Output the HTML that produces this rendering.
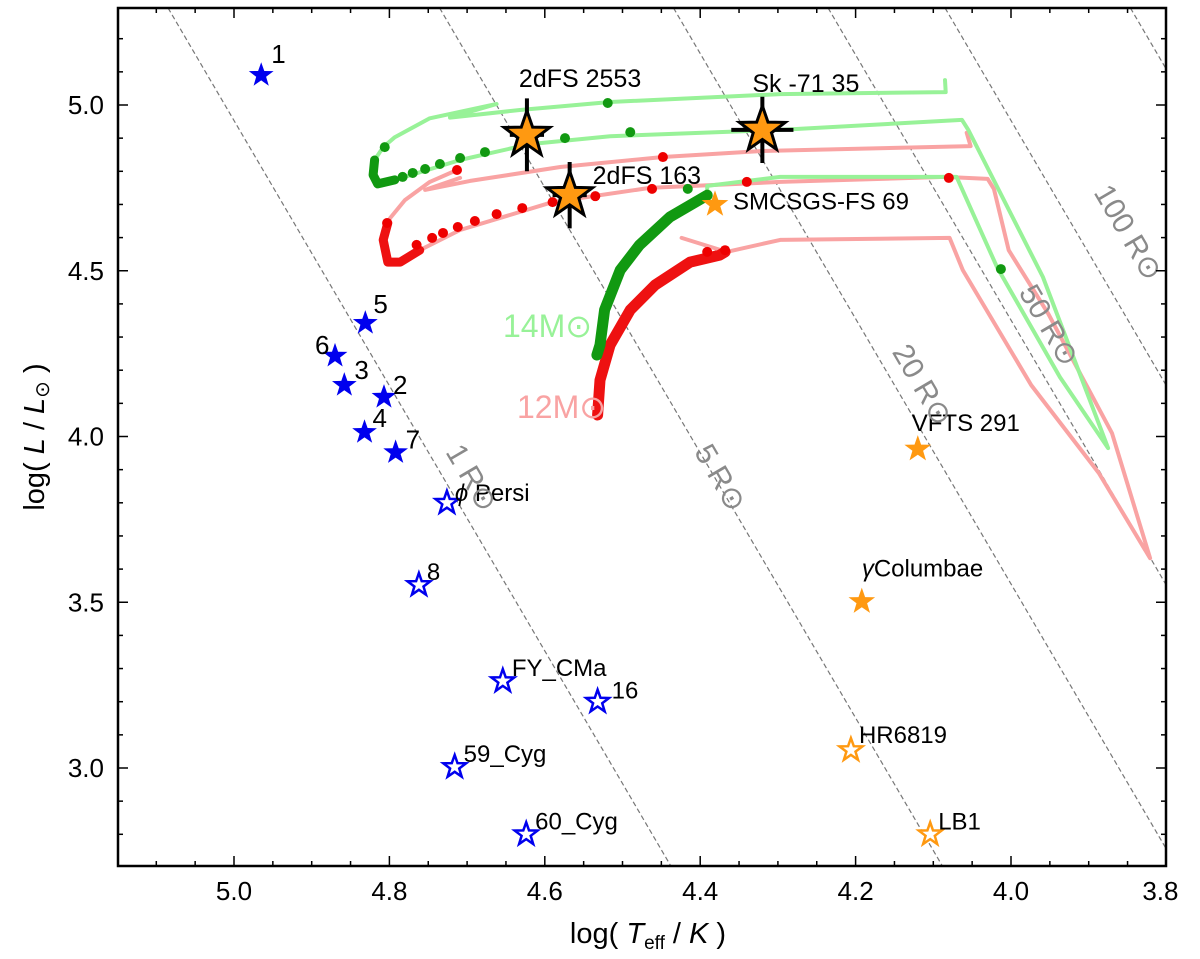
<!DOCTYPE html>
<html><head><meta charset="utf-8"><style>
html,body{margin:0;padding:0;background:#fff;overflow:hidden;width:1200px;height:959px;}
svg{display:block;font-family:"Liberation Sans",sans-serif;overflow:hidden;}
</style></head><body>
<svg id="chart" width="1200" height="959" viewBox="0 0 1200 959" xmlns="http://www.w3.org/2000/svg">
<defs><clipPath id="plotclip"><rect x="118" y="8" width="1048" height="858"/></clipPath></defs>
<g id="grid" clip-path="url(#plotclip)"></g>
<g id="tracks" clip-path="url(#plotclip)"></g>
<g id="marks"></g>
<g id="axes"></g>
</svg>
<script>
// ---- data ----
const xTicks = [5.0, 4.8, 4.6, 4.4, 4.2, 4.0, 3.8];
const xTickLabels = ["5.0","4.8","4.6","4.4","4.2","4.0","3.8"];
const yTicks = [3.0, 3.5, 4.0, 4.5, 5.0];
const yTickLabels = ["3.0","3.5","4.0","4.5","5.0"];
const isoRadii = [1, 5, 20, 50, 100, 300];
const isoLabels = [["1",4.705,3.86],["5",4.385,3.86],["20",4.125,4.14],["50",3.962,4.32],["100",3.86,4.60]];

const blueFilledNames = ["1","5","6","3","2","4","7"];
const blueFilledT = [4.965, 4.831, 4.870, 4.858, 4.807, 4.832, 4.792];
const blueFilledL = [5.09, 4.342, 4.243, 4.155, 4.119, 4.013, 3.952];

const blueOpenNames = ["ϕ Persi","8","FY_CMa","16","59_Cyg","60_Cyg"];
const blueOpenT = [4.726, 4.762, 4.654, 4.532, 4.716, 4.624];
const blueOpenL = [3.80, 3.552, 3.262, 3.200, 3.003, 2.800];

const orangeOpenNames = ["HR6819","LB1"];
const orangeOpenT = [4.206, 4.104];
const orangeOpenL = [3.054, 2.800];

const orangeFilledNames = ["VFTS 291","γColumbae","SMCSGS-FS 69"];
const orangeFilledT = [4.12, 4.192, 4.381];
const orangeFilledL = [3.962, 3.502, 4.70];

const bigNames = ["2dFS 2553","Sk -71 35","2dFS 163"];
const bigT = [4.623, 4.320, 4.568];
const bigL = [4.91, 4.925, 4.728];
const bigTerr = [0.022, 0.04, 0.022];
const bigLerr = [0.11, 0.10, 0.10];

const green1 = [[4.085,5.075],[4.084,5.039],[4.297,5.033],[4.516,5.009],[4.632,4.985],[4.722,4.962],[4.662,5.003],[4.748,4.96],[4.793,4.903],[4.808,4.873],[4.819,4.834]];
const greenThick1 = [[4.819,4.834],[4.821,4.789],[4.815,4.762],[4.793,4.774]];
const green3 = [[4.793,4.774],[4.709,4.834],[4.619,4.882],[4.516,4.906],[4.297,4.925],[4.063,4.955],[4.055,4.925],[3.959,4.481],[3.875,3.965],[3.937,4.179],[4.018,4.511],[4.070,4.783],[4.297,4.783],[4.391,4.756],[4.391,4.728]];
const greenThick2 = [[4.533,4.246],[4.529,4.276],[4.523,4.382],[4.503,4.502],[4.478,4.578],[4.439,4.662],[4.391,4.728]];
const greenDots = [[4.806,4.873],[4.709,4.840],[4.677,4.858],[4.735,4.822],[4.754,4.807],[4.770,4.795],[4.783,4.783],[4.574,4.900],[4.490,4.918],[4.519,5.006],[4.416,4.747],[4.013,4.505]];

const red1 = [[4.057,4.916],[4.052,4.876],[4.323,4.861],[4.448,4.843],[4.580,4.813],[4.696,4.771],[4.754,4.744],[4.709,4.780]];
const red2 = [[4.713,4.804],[4.748,4.768],[4.780,4.713],[4.799,4.659],[4.802,4.644]];
const redThick1 = [[4.802,4.644],[4.808,4.593],[4.802,4.526],[4.786,4.526],[4.761,4.562]];
const red3 = [[4.761,4.562],[4.709,4.623],[4.590,4.707],[4.465,4.750],[4.297,4.768],[4.085,4.783],[4.030,4.777],[4.022,4.747],[4.003,4.562],[3.952,4.370],[3.870,4.010],[3.821,3.633],[3.887,3.890],[3.974,4.155],[4.062,4.502],[4.079,4.599],[4.297,4.593],[4.366,4.557],[4.424,4.599]];
const redThick2 = [[4.532,4.065],[4.529,4.170],[4.516,4.276],[4.490,4.382],[4.458,4.457],[4.413,4.526],[4.375,4.547],[4.368,4.557]];
const redDots = [[4.803,4.644],[4.765,4.578],[4.745,4.599],[4.731,4.614],[4.712,4.632],[4.690,4.650],[4.662,4.671],[4.629,4.689],[4.590,4.707],[4.535,4.725],[4.462,4.747],[4.448,4.843],[4.713,4.804],[4.340,4.768],[4.080,4.780],[4.391,4.557],[4.368,4.562]];

// ---- scales ----
const X0=118, X1=1166, Y0=8, Y1=866;
function sx(t){ return 234 + (5.0 - t) * 777; }
function sy(l){ return 105 + (5.0 - l) * 331.5; }
const LTOP = 5.0 + (105 - Y0)/331.5, LBOT = 5.0 - (Y1 - 105)/331.5;
const NS="http://www.w3.org/2000/svg";
function mk(tag, attrs, parent){ const e=document.createElementNS(NS,tag); for(const k in attrs) e.setAttribute(k,attrs[k]); parent.appendChild(e); return e; }
const grid=document.getElementById('grid'), tracks=document.getElementById('tracks'), marks=document.getElementById('marks'), axes=document.getElementById('axes');

function starPath(cx,cy,r){ let d=""; for(let k=0;k<10;k++){ const a=(-90+k*36)*Math.PI/180; const rr=k%2?r*0.4:r; d+=(k?"L":"M")+(cx+rr*Math.cos(a)).toFixed(1)+","+(cy+rr*Math.sin(a)).toFixed(1);} return d+"Z"; }

isoRadii.forEach(R=>{
  // logL = 2logR + 4(logT - 3.7617)  ->  logT for given logL
  const tOf=l=>3.7617+(l-2*Math.log10(R))/4;
  const ln=mk('line',{x1:sx(tOf(LTOP)),y1:sy(LTOP),x2:sx(tOf(LBOT)),y2:sy(LBOT),stroke:'#777','stroke-width':1.2,'stroke-dasharray':'5,3',fill:'none'},grid);
  
  
});
isoLabels.forEach(([r,t,l])=>{
  const tx=mk('text',{x:sx(t),y:sy(l),fill:'#8a8a8a','font-size':30,'text-anchor':'middle',transform:`rotate(59.6 ${sx(t)} ${sy(l)})`},axes);
  tx.textContent=r+" R⊙";
  
  
});

function poly(pts,color,w,name){
  const p=mk('polyline',{points:pts.map(q=>sx(q[0]).toFixed(1)+","+sy(q[1]).toFixed(1)).join(" "),fill:'none',stroke:color,'stroke-width':w,'stroke-linejoin':'round','stroke-linecap':'round'},tracks);
  
  
}
poly(red1,'#f9a3a3',4,'track-12msun-segment-1');
poly(red2,'#f9a3a3',4,'track-12msun-segment-2');
poly(red3,'#f9a3a3',4,'track-12msun-segment-3');
poly(green1,'#98f298',4,'track-14msun-segment-1');
poly(green3,'#98f298',4,'track-14msun-segment-3');
poly(redThick1,'#ee1111',9,'track-12msun-thick-1');
poly(redThick2,'#ee1111',11,'track-12msun-thick-2');
poly(greenThick1,'#119911',9,'track-14msun-thick-1');
poly(greenThick2,'#119911',11,'track-14msun-thick-2');
redDots.forEach(d=>{ const c=mk('circle',{cx:sx(d[0]),cy:sy(d[1]),r:5,fill:'#ee0000'},tracks);   });
greenDots.forEach(d=>{ const c=mk('circle',{cx:sx(d[0]),cy:sy(d[1]),r:5,fill:'#119911'},tracks);   });

function label(txt,x,y,size,color,name){
  const t=mk('text',{x:x,y:y,'font-size':size,fill:color},marks); t.textContent=txt;
  
  
  return t;
}
label("14M⊙",503,337,32,'#98f298','track-label-14msun');
label("12M⊙",517,418,32,'#f9a3a3','track-label-12msun');

const bfOff={"1":[10,-12],"5":[8,-10],"6":[-20,-2],"3":[10,-6],"2":[9,-3],"4":[8,-5],"7":[10,-4]};
blueFilledNames.forEach((n,i)=>{
  const x=sx(blueFilledT[i]), y=sy(blueFilledL[i]);
  const s=mk('path',{d:starPath(x,y,13),fill:'#0000ee'},marks);
  
  
  label(n,x+bfOff[n][0],y+bfOff[n][1],26,'#000','star-label-'+n);
});
const boOff={"ϕ Persi":[8,-2],"8":[8,-5],"FY_CMa":[9,-5],"16":[14,-3],"59_Cyg":[9,-5],"60_Cyg":[9,-5]};
blueOpenNames.forEach((n,i)=>{
  const x=sx(blueOpenT[i]), y=sy(blueOpenL[i]);
  const s=mk('path',{d:starPath(x,y,12),fill:'#fff',stroke:'#0000ee','stroke-width':2.5},marks);
  
  
  const t=label(n,x+boOff[n][0],y+boOff[n][1],24,'#000','star-label-'+n);
  if(n==="ϕ Persi"){ t.textContent=""; const a=mk('tspan',{'font-style':'italic'},t); a.textContent="ϕ"; const b=mk('tspan',{},t); b.textContent=" Persi"; }
});
const ooOff={"HR6819":[8,-7],"LB1":[8,-5]};
orangeOpenNames.forEach((n,i)=>{
  const x=sx(orangeOpenT[i]), y=sy(orangeOpenL[i]);
  const s=mk('path',{d:starPath(x,y,12),fill:'#fff',stroke:'#ff9911','stroke-width':2.5},marks);
  
  
  label(n,x+ooOff[n][0],y+ooOff[n][1],24,'#000','star-label-'+n);
});
const ofOff={"VFTS 291":[-6,-18],"γColumbae":[0,-25],"SMCSGS-FS 69":[18,5]};
orangeFilledNames.forEach((n,i)=>{
  const x=sx(orangeFilledT[i]), y=sy(orangeFilledL[i]);
  const s=mk('path',{d:starPath(x,y,14),fill:'#ff9911'},marks);
  
  
  const t=label(n,x+ofOff[n][0],y+ofOff[n][1],24,'#000','star-label-'+n);
  if(n==="γColumbae"){ t.textContent=""; const a=mk('tspan',{'font-style':'italic'},t); a.textContent="γ"; const b=mk('tspan',{},t); b.textContent="Columbae"; }
});
const bgOff={"2dFS 2553":[-8,-48],"Sk -71 35":[-10,-38],"2dFS 163":[23,-11]};
bigNames.forEach((n,i)=>{
  const x=sx(bigT[i]), y=sy(bigL[i]);
  const ex=bigTerr[i]*777, eyT=sy(bigL[i]+bigLerr[i]), eyB=sy(bigL[i]-bigLerr[i]);
  const e1=mk('line',{x1:x,y1:eyT,x2:x,y2:eyB,stroke:'#000','stroke-width':4},marks);
   
  const e2=mk('line',{x1:x-ex,y1:y,x2:x+ex,y2:y,stroke:'#000','stroke-width':4},marks);
   
  const s=mk('path',{d:starPath(x,y,24),fill:'#ff9911',stroke:'#000','stroke-width':3,'stroke-linejoin':'miter'},marks);
  
  
  label(n,x+bgOff[n][0],y+bgOff[n][1],25,'#000','star-label-'+n);
});

const fr=mk('rect',{x:X0,y:Y0,width:X1-X0,height:Y1-Y0,fill:'none',stroke:'#000','stroke-width':2.5},axes);
 
for(let t=5.15;t>=3.8-1e-9;t-=0.05){
  const v=Math.round(t*100)/100; const x=sx(v); if(x<X0+1||x>X1-1) continue;
  const major=Math.abs(v*10-Math.round(v*10))<1e-6 && Math.round(v*10)%2===0;
  const len=major?10:5;
  mk('line',{x1:x,y1:Y1,x2:x,y2:Y1-len,stroke:'#000','stroke-width':1.5},axes);
  mk('line',{x1:x,y1:Y0,x2:x,y2:Y0+len,stroke:'#000','stroke-width':1.5},axes);
}
for(let l=2.7;l<=5.3;l+=0.1){
  const v=Math.round(l*10)/10; const y=sy(v); if(y<Y0+1||y>Y1-1) continue;
  const major=Math.round(v*10)%5===0; const len=major?10:5;
  mk('line',{x1:X0,y1:y,x2:X0+len,y2:y,stroke:'#000','stroke-width':1.5},axes);
  mk('line',{x1:X1,y1:y,x2:X1-len,y2:y,stroke:'#000','stroke-width':1.5},axes);
}
xTicks.forEach((t,i)=>{
  const tx=mk('text',{x:sx(t)-(i===xTicks.length-1?6:0),y:900,'font-size':26,'text-anchor':'middle',fill:'#000'},axes);
  tx.textContent=xTickLabels[i];
   
});
yTicks.forEach((l,i)=>{
  const tx=mk('text',{x:104,y:sy(l)+9,'font-size':26,'text-anchor':'end',fill:'#000'},axes);
  tx.textContent=yTickLabels[i];
   
});
const xt=mk('text',{x:648,y:943,'font-size':29,'text-anchor':'middle',fill:'#000'},axes);
 
xt.innerHTML='log( <tspan font-style="italic">T</tspan><tspan font-size="19" dy="6">eff</tspan><tspan dy="-6"> / </tspan><tspan font-style="italic">K</tspan> )';
const yt=mk('text',{x:0,y:0,'font-size':29,'text-anchor':'middle',fill:'#000',transform:'translate(44 437) rotate(-90)'},axes);
 
yt.innerHTML='log( <tspan font-style="italic">L</tspan> / <tspan font-style="italic">L</tspan><tspan font-size="20" dy="5">⊙</tspan><tspan dy="-5"> )</tspan>';
</script>
</body></html>
